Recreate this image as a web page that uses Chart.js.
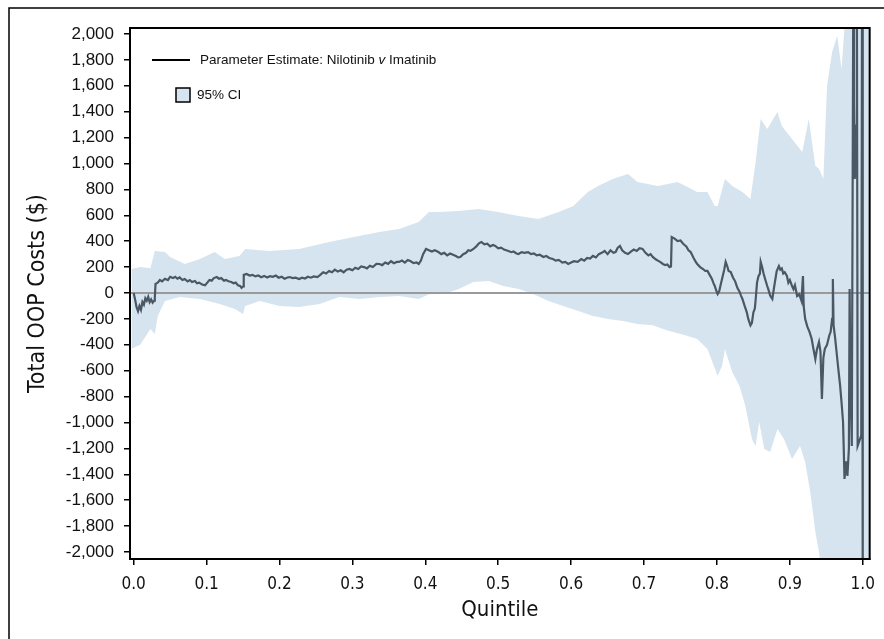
<!DOCTYPE html>
<html>
<head>
<meta charset="utf-8">
<script src="https://cdn.jsdelivr.net/npm/chart.js@4"></script>
<style>
  body { margin: 0; background: #fff; }
  #wrap { width: 884px; height: 639px; }
</style>
</head>
<body>
<div id="wrap"><canvas id="oopChart" width="884" height="639"></canvas></div>
<script>
// ข้อมูลที่อ่านจากภาพ (ค่าประมาณ)
const xTicks = [0, 0.1, 0.2, 0.3, 0.4, 0.5, 0.6, 0.7, 0.8, 0.9, 1.0];
const yTicks = [-2000, -1800, -1600, -1400, -1200, -1000, -800, -600, -400, -200, 0,
  200, 400, 600, 800, 1000, 1200, 1400, 1600, 1800, 2000];

// Parameter Estimate: Nilotinib v Imatinib
const estX = [0, 0.002, 0.004, 0.006, 0.008, 0.010, 0.012, 0.014, 0.016, 0.018, 0.020, 0.022, 0.024, 0.026, 0.028, 0.029,
  0.030, 0.033, 0.036, 0.039, 0.043, 0.047, 0.050, 0.054, 0.057, 0.060, 0.063, 0.067, 0.070, 0.074, 0.077, 0.080,
  0.084, 0.087, 0.090, 0.094, 0.098, 0.101, 0.104, 0.107, 0.110, 0.114, 0.117, 0.120, 0.124, 0.127, 0.130, 0.134,
  0.137, 0.140, 0.143, 0.146, 0.148, 0.150, 0.151, 0.155, 0.159, 0.163, 0.167, 0.171, 0.175, 0.179, 0.183, 0.187,
  0.191, 0.195, 0.199, 0.203, 0.207, 0.211, 0.214, 0.218, 0.222, 0.227, 0.231, 0.235, 0.239, 0.243, 0.247, 0.252,
  0.256, 0.260, 0.264, 0.268, 0.272, 0.276, 0.280, 0.284, 0.288, 0.292, 0.296, 0.300, 0.304, 0.308, 0.312, 0.316,
  0.320, 0.324, 0.328, 0.333, 0.337, 0.341, 0.345, 0.349, 0.353, 0.357, 0.361, 0.364, 0.368, 0.372, 0.376, 0.380,
  0.384, 0.388, 0.391, 0.394, 0.397, 0.401, 0.405, 0.409, 0.413, 0.418, 0.422, 0.426, 0.430, 0.434, 0.438, 0.442,
  0.445, 0.448, 0.452, 0.456, 0.459, 0.462, 0.466, 0.470, 0.474, 0.477, 0.481, 0.485, 0.489, 0.493, 0.496, 0.500,
  0.504, 0.508, 0.511, 0.514, 0.518, 0.521, 0.525, 0.528, 0.532, 0.536, 0.541, 0.545, 0.549, 0.553, 0.557, 0.562,
  0.566, 0.570, 0.575, 0.579, 0.583, 0.588, 0.592, 0.596, 0.600, 0.604, 0.609, 0.614, 0.618, 0.622, 0.626, 0.630,
  0.634, 0.638, 0.642, 0.646, 0.650, 0.654, 0.658, 0.661, 0.664, 0.667, 0.670, 0.674, 0.678, 0.682, 0.686, 0.690,
  0.694, 0.698, 0.702, 0.706, 0.709, 0.712, 0.716, 0.719, 0.722, 0.726, 0.729, 0.732, 0.735, 0.737, 0.738, 0.742,
  0.746, 0.750, 0.754, 0.758, 0.761, 0.764, 0.768, 0.771, 0.773, 0.777, 0.781, 0.784, 0.787, 0.790, 0.793, 0.795,
  0.797, 0.799, 0.801, 0.803, 0.805, 0.807, 0.810, 0.812, 0.814, 0.816, 0.819, 0.822, 0.825, 0.828, 0.831, 0.833,
  0.835, 0.838, 0.841, 0.843, 0.846, 0.848, 0.850, 0.852, 0.853, 0.855, 0.857, 0.859, 0.860, 0.862, 0.864, 0.866,
  0.869, 0.871, 0.873, 0.876, 0.878, 0.880, 0.882, 0.885, 0.887, 0.889, 0.891, 0.893, 0.896, 0.898, 0.900, 0.903,
  0.905, 0.907, 0.910, 0.913, 0.916, 0.918, 0.919, 0.921, 0.924, 0.927, 0.930, 0.932, 0.935, 0.937, 0.940, 0.942,
  0.944, 0.946, 0.948, 0.951, 0.954, 0.956, 0.958, 0.959, 0.960, 0.962, 0.964, 0.966, 0.969, 0.971, 0.973, 0.975,
  0.977, 0.979, 0.981, 0.982, 0.983, 0.985, 0.987, 0.988, 0.989, 0.990, 0.991, 0.992, 0.993, 0.998, 0.999, 1.000];
const estY = [0, -50, -110, -140, -100, -130, -70, -90, -40, -60, -30, -70, -50, -75, -60, -40,
  70, 80, 100, 90, 110, 100, 125, 115, 125, 110, 120, 100, 108, 90, 100, 85,
  93, 75, 80, 65, 60, 80, 100, 95, 115, 123, 110, 115, 95, 100, 90, 85,
  75, 80, 60, 55, 40, 50, 140, 147, 135, 140, 128, 135, 122, 132, 120, 130,
  125, 135, 118, 125, 110, 120, 123, 115, 118, 108, 118, 112, 125, 118, 128, 123,
  140, 160, 150, 170, 160, 180, 165, 175, 160, 180, 185, 175, 195, 185, 205, 200,
  190, 210, 200, 225, 224, 215, 235, 225, 245, 230, 240, 240, 250, 235, 255, 245,
  230, 235, 224, 250, 300, 340, 330, 320, 330, 316, 300, 310, 290, 305, 295, 285,
  275, 278, 300, 310, 330, 325, 340, 360, 385, 394, 375, 380, 360, 370, 363, 345,
  350, 335, 330, 324, 315, 320, 305, 301, 315, 310, 316, 300, 305, 290, 295, 278,
  285, 270, 262, 250, 255, 235, 240, 224, 235, 245, 240, 262, 250, 270, 265, 286,
  275, 300, 310, 324, 300, 330, 310, 316, 350, 363, 330, 310, 301, 320, 335, 325,
  345, 340, 310, 290, 300, 278, 260, 250, 240, 224, 215, 220, 200, 205, 432, 420,
  401, 405, 378, 360, 330, 316, 270, 240, 224, 200, 185, 170, 170, 140, 110, 80,
  54, 20, -8, 10, 60, 108, 180, 240, 210, 170, 162, 120, 90, 40, 10, -20,
  -46, -100, -150, -200, -250, -230, -150, -120, -60, 80, 130, 150, 240, 200, 150, 110,
  54, 20, -20, -46, 30, 100, 170, 208, 180, 190, 150, 160, 131, 80, 100, 54,
  30, 60, -23, -10, -60, 131, -100, -200, -260, -300, -355, -420, -510, -440, -378, -450,
  -818, -500, -432, -400, -330, -300, -200, 108, -250, -340, -450, -560, -718, -850, -996, -1436,
  -1300, -1413, -1200, 31, -600, -1181, 2300, 1474, 880, 1300, 900, 2300, -1180, -1100, 2300, -2300];

// 95% CI
const ciUpperX = [-0.003, 0.009, 0.023, 0.029, 0.043, 0.050, 0.070, 0.091, 0.111, 0.125, 0.145, 0.153, 0.186, 0.227,
  0.268, 0.309, 0.337, 0.364, 0.391, 0.405, 0.418, 0.446, 0.473, 0.500, 0.528, 0.555, 0.583, 0.603, 0.623,
  0.637, 0.657, 0.678, 0.691, 0.719, 0.746, 0.773, 0.787, 0.797, 0.801, 0.811, 0.821, 0.835, 0.846, 0.853,
  0.860, 0.869, 0.883, 0.889, 0.903, 0.917, 0.926, 0.935, 0.940, 0.946, 0.951, 0.958, 0.965, 0.971, 0.978, 1.012];
const ciUpperY = [185, 200, 190, 324, 316, 278, 224, 262, 316, 262, 286, 340, 324, 340,
  394, 440, 471, 494, 548, 625, 625, 633, 648, 625, 594, 571, 625, 672, 780,
  826, 880, 918, 857, 826, 857, 780, 780, 672, 672, 880, 826, 780, 726, 1011,
  1343, 1266, 1397, 1289, 1189, 1088, 1343, 980, 960, 880, 1598, 1860, 1984, 1729, 2300, 2300];
const ciLowerX = [-0.003, 0.009, 0.023, 0.029, 0.033, 0.043, 0.063, 0.091, 0.118, 0.139, 0.150, 0.153, 0.173, 0.200,
  0.227, 0.255, 0.282, 0.309, 0.337, 0.364, 0.391, 0.405, 0.425, 0.446, 0.466, 0.487, 0.507, 0.528, 0.548,
  0.569, 0.589, 0.610, 0.630, 0.651, 0.671, 0.691, 0.712, 0.732, 0.753, 0.773, 0.787, 0.801, 0.807, 0.811,
  0.821, 0.831, 0.839, 0.848, 0.853, 0.858, 0.865, 0.873, 0.883, 0.892, 0.903, 0.914, 0.921, 0.928, 0.935,
  0.940, 0.946, 1.012];
const ciLowerY = [-430, -400, -278, -316, -177, -62, -31, -46, -85, -124, -162, -100, -62, -100,
  -108, -85, -31, -46, -31, -23, -46, -10, -8, 31, 85, 93, 54, 31, -8,
  -62, -100, -139, -177, -201, -216, -239, -250, -290, -320, -355, -432, -640, -563, -432,
  -610, -718, -872, -1127, -1181, -996, -1204, -1227, -1050, -1127, -1281, -1181, -1305, -1536, -1845,
  -2000, -2300, -2300];

const toPoints = (xs, ys) => xs.map((x, i) => ({x: x, y: ys[i]}));

const lineColor = '#4a5764';
const bandColor = '#d6e4ef';
const axisFont = "'Liberation Sans Narrow', 'DejaVu Sans Condensed', sans-serif";
const legendFont = "13.5px 'Liberation Sans', Arial, sans-serif";

// กรอบรอบกราฟ + กรอบนอก + legend
const framePlugin = {
  id: 'frame',
  beforeDraw(chart) {
    const ctx = chart.ctx;
    ctx.save();
    ctx.strokeStyle = '#000';
    ctx.lineWidth = 1.5;
    ctx.beginPath();
    ctx.moveTo(9, 639);
    ctx.lineTo(9, 8);
    ctx.lineTo(884, 8);
    ctx.stroke();
    ctx.restore();
  },
  afterDraw(chart) {
    const {ctx, chartArea: a} = chart;
    ctx.save();
    ctx.strokeStyle = '#000';
    ctx.lineWidth = 2;
    ctx.strokeRect(a.left, a.top, a.right - a.left, a.bottom - a.top);

    // legend
    ctx.lineWidth = 2;
    ctx.beginPath();
    ctx.moveTo(152, 60);
    ctx.lineTo(190, 60);
    ctx.stroke();
    ctx.font = legendFont;
    ctx.fillStyle = '#111';
    ctx.textBaseline = 'middle';
    let tx = 200;
    const part1 = 'Parameter Estimate: Nilotinib ';
    ctx.fillText(part1, tx, 60);
    tx += ctx.measureText(part1).width;
    ctx.font = 'italic ' + legendFont;
    ctx.fillText('v', tx, 60);
    tx += ctx.measureText('v').width;
    ctx.font = legendFont;
    ctx.fillText(' Imatinib', tx, 60);

    ctx.fillStyle = bandColor;
    ctx.fillRect(176, 88, 14, 14);
    ctx.lineWidth = 1.5;
    ctx.strokeRect(176, 88, 14, 14);
    ctx.fillStyle = '#111';
    ctx.fillText('95% CI', 197, 95);
    ctx.restore();
  }
};

new Chart(document.getElementById('oopChart'), {
  type: 'line',
  data: {
    datasets: [
      {
        label: 'Parameter Estimate: Nilotinib v Imatinib',
        data: toPoints(estX, estY),
        borderColor: lineColor,
        borderWidth: 2.2,
        pointRadius: 0,
        fill: false,
        order: 0
      },
      {
        label: 'zero',
        data: [{x: -0.005, y: 0}, {x: 1.0095, y: 0}],
        borderColor: '#9a9a9a',
        borderWidth: 2,
        pointRadius: 0,
        fill: false,
        order: 1
      },
      {
        label: '95% CI',
        data: toPoints(ciUpperX, ciUpperY),
        borderWidth: 0,
        borderColor: bandColor,
        backgroundColor: bandColor,
        pointRadius: 0,
        fill: '+1',
        order: 2
      },
      {
        label: '95% CI lower',
        data: toPoints(ciLowerX, ciLowerY),
        borderWidth: 0,
        borderColor: bandColor,
        pointRadius: 0,
        fill: false,
        order: 3
      }
    ]
  },
  options: {
    responsive: false,
    animation: false,
    layout: { padding: { left: 0, right: 11, top: 28, bottom: 0 } },
    plugins: {
      legend: { display: false },
      tooltip: { enabled: false }
    },
    scales: {
      x: {
        type: 'linear',
        min: -0.005,
        max: 1.0095,
        afterFit: s => { s.height = 80; },
        afterBuildTicks: s => { s.ticks = xTicks.map(v => ({value: v})); },
        grid: { drawOnChartArea: false, tickLength: 6, color: '#000', lineWidth: 1.5 },
        border: { display: true, color: '#000', width: 2 },
        ticks: {
          color: '#111',
          padding: 9,
          maxRotation: 0,
          font: { family: axisFont, size: 17 },
          callback: v => v.toFixed(1)
        },
        title: {
          display: true,
          text: 'Quintile',
          color: '#111',
          font: { family: axisFont, size: 22 },
          padding: { top: 0, bottom: 16 }
        }
      },
      y: {
        min: -2054,
        max: 2046,
        afterFit: s => { s.width = 130; },
        afterBuildTicks: s => { s.ticks = yTicks.map(v => ({value: v})); },
        grid: { drawOnChartArea: false, tickLength: 6, color: '#000', lineWidth: 1.5 },
        border: { display: true, color: '#000', width: 2 },
        ticks: {
          color: '#111',
          padding: 10,
          font: { family: "'Liberation Sans', Arial, sans-serif", size: 17 },
          callback: v => v.toLocaleString('en-US')
        },
        title: {
          display: true,
          text: 'Total OOP Costs ($)',
          color: '#111',
          font: { family: axisFont, size: 23 },
          padding: { top: 24, bottom: 0 }
        }
      }
    }
  },
  plugins: [framePlugin]
});
</script>
</body>
</html>
